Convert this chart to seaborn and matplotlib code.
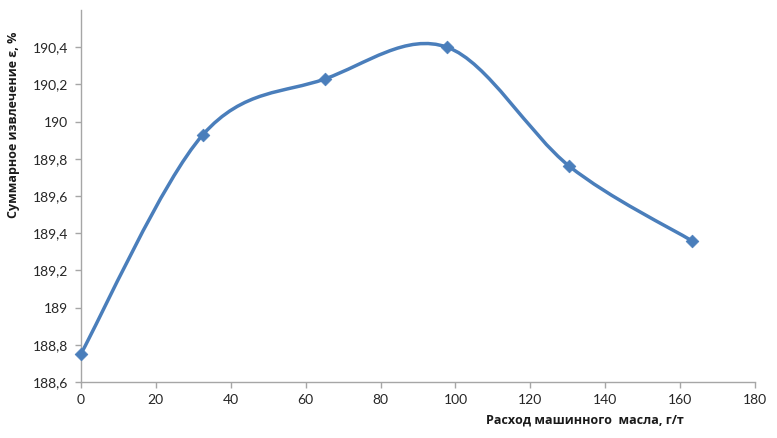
import numpy as np
import pandas as pd
import matplotlib
matplotlib.use("Agg")
import matplotlib.pyplot as plt
from matplotlib.path import Path
from matplotlib.patches import PathPatch
import seaborn as sns

# данные
rashod = [0, 32.6, 65.2, 97.8, 130.4, 163.0]
izvlechenie = [188.75, 189.93, 190.23, 190.40, 189.76, 189.36]

x_ticks = [0, 20, 40, 60, 80, 100, 120, 140, 160, 180]
y_ticks = [188.6, 188.8, 189.0, 189.2, 189.4, 189.6, 189.8, 190.0, 190.2, 190.4]
y_tick_labels = ['188,6', '188,8', '189', '189,2', '189,4', '189,6', '189,8', '190', '190,2', '190,4']

x_label = 'Расход машинного  масла, г/т'
y_label = 'Суммарное извлечение ε, %'

color = '#4A7EBB'
axis_color = '#A6A6A6'

#%%
df = pd.DataFrame({'rashod': rashod, 'izvlechenie': izvlechenie})

sns.set_style('white')
plt.rcParams['font.family'] = ['Lato', 'DejaVu Sans']

fig = plt.figure(figsize=(7.77, 4.38), dpi=100)
ax = fig.add_axes([0.104, 0.128, 0.868, 0.849])


def excel_smooth_path(xs, ys):
    # сглаженная линия как в Excel (кубические кривые Безье)
    pts = np.column_stack([xs, ys])
    n = len(pts)
    verts = [pts[0]]
    codes = [Path.MOVETO]
    for i in range(n - 1):
        p0 = pts[i - 1] if i > 0 else pts[i]
        p1 = pts[i]
        p2 = pts[i + 1]
        p3 = pts[i + 2] if i + 2 < n else pts[i + 1]
        c1 = p1 + (p2 - p0) / 6.0
        c2 = p2 - (p3 - p1) / 6.0
        verts += [c1, c2, p2]
        codes += [Path.CURVE4] * 3
    return Path(verts, codes)


ax.add_patch(PathPatch(excel_smooth_path(df['rashod'].values, df['izvlechenie'].values),
                       facecolor='none', edgecolor=color, lw=2.5, capstyle='round',
                       joinstyle='round', zorder=2))
sns.scatterplot(data=df, x='rashod', y='izvlechenie', marker='D', s=42,
                color=color, edgecolor=color, linewidth=0.5, ax=ax, zorder=3,
                clip_on=False)

ax.set_xlim(0, 180)
ax.set_ylim(188.6, 190.6)
ax.set_xticks(x_ticks)
ax.set_yticks(y_ticks)
ax.set_yticklabels(y_tick_labels)

for side in ['top', 'right']:
    ax.spines[side].set_visible(False)
for side in ['left', 'bottom']:
    ax.spines[side].set_color(axis_color)
    ax.spines[side].set_linewidth(1.0)

ax.tick_params(axis='both', direction='out', length=4, width=1, color=axis_color,
               labelsize=10, labelcolor='#262626', pad=5, left=True, bottom=True)

ax.set_xlabel('')
ax.set_ylabel('')
fig.text(0.753, 0.04, x_label, ha='center', va='center', fontsize=9,
         fontweight='bold', color='#1a1a1a', family=['Open Sans', 'DejaVu Sans'])
fig.text(0.017, 0.715, y_label, ha='center', va='center', rotation=90, fontsize=9,
         fontweight='bold', color='#1a1a1a', family=['Open Sans', 'DejaVu Sans'])

fig.savefig('out.png', dpi=100)
